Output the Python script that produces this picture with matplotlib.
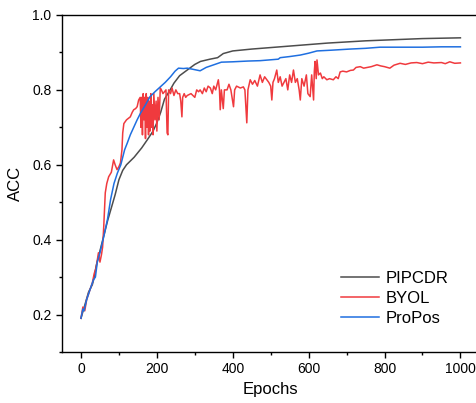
import matplotlib
matplotlib.use('Agg')
import matplotlib.pyplot as plt
from matplotlib.ticker import MultipleLocator

plt.rcParams['font.family'] = ['Liberation Sans', 'DejaVu Sans']

# PIPCDR (gray)
pip_ep = [0, 10, 20, 30, 35, 40, 50, 60, 70, 80, 90, 100, 110, 120, 140, 160, 175, 190,
          200, 210, 220, 235, 245, 260, 280, 300, 315, 340, 360, 375, 400, 450, 500, 550,
          600, 650, 700, 750, 800, 850, 900, 950, 1000]
pip_acc = [0.19, 0.225, 0.26, 0.28, 0.30, 0.33, 0.37, 0.41, 0.45, 0.485, 0.52, 0.56, 0.585,
           0.60, 0.62, 0.645, 0.667, 0.69, 0.712, 0.74, 0.775, 0.80, 0.818, 0.838, 0.853,
           0.868, 0.876, 0.882, 0.886, 0.897, 0.904, 0.909, 0.913, 0.917, 0.921, 0.925,
           0.928, 0.931, 0.933, 0.935, 0.937, 0.938, 0.939]

# BYOL (red)
byol_ep = [0, 5, 10, 15, 20, 25, 30, 35, 40, 46, 50, 54, 57, 60, 62, 64, 68, 73, 80, 86, 90,
           95, 100, 104, 108, 110, 113, 120, 130, 135, 139, 144, 148, 152, 156,
           158, 160, 162, 164, 166, 168, 170, 172, 174, 176, 178, 180, 182, 184, 186, 188,
           190, 192, 195, 198, 200, 203, 206, 209, 212, 216, 220, 224, 227, 229, 231, 236,
           240, 245, 250, 255, 260, 263, 266, 268, 272, 276, 280, 290, 300, 305, 310, 314,
           320, 325, 330, 335, 341, 346, 350, 355, 362, 365, 367, 370, 375, 378, 385, 390,
           395, 402, 405, 410, 420, 428, 432, 437, 440, 446, 452, 458, 465, 472, 478, 484,
           490, 495, 500, 503, 506, 510, 516, 520, 525, 530, 534, 540, 545, 550, 555, 560,
           565, 570, 575, 578, 582, 588, 594, 598, 604, 608, 613, 615, 617, 620, 622, 626,
           631, 636, 640, 648, 655, 665, 672, 678, 683, 690, 700, 710, 718, 725, 736, 745,
           755, 765, 780, 790, 800, 814, 825, 841, 855, 870, 885, 900, 915, 930, 950, 960,
           972, 985, 1000]
byol_acc = [0.19, 0.22, 0.21, 0.24, 0.255, 0.27, 0.285, 0.31, 0.325, 0.365, 0.34, 0.36, 0.38,
            0.435, 0.48, 0.525, 0.55, 0.568, 0.58, 0.613, 0.60, 0.587, 0.595, 0.605, 0.64,
            0.685, 0.71, 0.72, 0.728, 0.74, 0.747, 0.75, 0.755, 0.773, 0.78,
            0.70, 0.78, 0.68, 0.79, 0.72, 0.78, 0.67, 0.79, 0.70, 0.78, 0.68, 0.77, 0.69,
            0.79, 0.70, 0.76, 0.68, 0.79, 0.72, 0.77, 0.69, 0.78, 0.72, 0.805, 0.80, 0.79,
            0.795, 0.80, 0.685, 0.68, 0.80, 0.79, 0.805, 0.785, 0.80, 0.79, 0.79, 0.77,
            0.728, 0.78, 0.79, 0.78, 0.785, 0.79, 0.78, 0.80, 0.795, 0.80, 0.79, 0.805,
            0.795, 0.81, 0.805, 0.79, 0.81, 0.80, 0.827, 0.80, 0.747, 0.80, 0.75, 0.80,
            0.80, 0.815, 0.80, 0.755, 0.80, 0.81, 0.805, 0.808, 0.80, 0.712, 0.80, 0.827,
            0.815, 0.825, 0.81, 0.84, 0.82, 0.835, 0.827, 0.82, 0.81, 0.773, 0.82, 0.83,
            0.853, 0.82, 0.835, 0.81, 0.818, 0.83, 0.80, 0.84, 0.82, 0.853, 0.82, 0.83,
            0.80, 0.773, 0.83, 0.81, 0.84, 0.79, 0.782, 0.84, 0.773, 0.85, 0.876, 0.83,
            0.88, 0.84, 0.845, 0.83, 0.835, 0.827, 0.83, 0.827, 0.835, 0.83, 0.848, 0.85,
            0.848, 0.852, 0.853, 0.86, 0.862, 0.858, 0.86, 0.862, 0.867, 0.864, 0.862,
            0.858, 0.866, 0.871, 0.868, 0.872, 0.873, 0.87, 0.874, 0.872, 0.873, 0.87,
            0.875, 0.871, 0.872]

# ProPos (blue)
pro_ep = [0, 5, 8, 15, 25, 33, 38, 43, 50, 60, 70, 78, 87, 96, 105, 115, 122, 130, 139, 148,
          157, 170, 182, 195, 209, 222, 236, 248, 257, 270, 280, 295, 314, 330, 350, 370,
          400, 440, 472, 520, 525, 550, 578, 600, 622, 660, 709, 750, 788, 850, 900, 950, 1000]
pro_acc = [0.19, 0.215, 0.21, 0.24, 0.27, 0.293, 0.30, 0.34, 0.365, 0.408, 0.455, 0.507,
           0.55, 0.578, 0.60, 0.64, 0.658, 0.68, 0.70, 0.72, 0.738, 0.76, 0.782, 0.795,
           0.808, 0.82, 0.835, 0.85, 0.858, 0.857, 0.858, 0.855, 0.851, 0.86, 0.867, 0.874,
           0.875, 0.877, 0.878, 0.882, 0.886, 0.889, 0.893, 0.898, 0.904, 0.906, 0.909,
           0.911, 0.914, 0.914, 0.914, 0.915, 0.915]

fig = plt.figure(figsize=(4.77, 4.03), dpi=100)
ax = fig.add_axes([0.13, 0.1266, 0.875, 0.8362])

ax.plot(pip_ep, pip_acc, color='#4d4d4d', lw=1.1, label='PIPCDR')
ax.plot(byol_ep, byol_acc, color='#f03a3e', lw=1.1, label='BYOL')
ax.plot(pro_ep, pro_acc, color='#1f6fe0', lw=1.1, label='ProPos')

ax.set_xlim(-50, 1050)
ax.set_ylim(0.1, 1.0)
ax.xaxis.set_major_locator(MultipleLocator(200))
ax.xaxis.set_minor_locator(MultipleLocator(100))
ax.yaxis.set_major_locator(MultipleLocator(0.2))
ax.yaxis.set_minor_locator(MultipleLocator(0.1))
ax.tick_params(which='major', direction='out', length=4, width=1, labelsize=10)
ax.tick_params(which='minor', direction='out', length=2.5, width=1)
ax.spines['right'].set_visible(False)
for s in ['left', 'bottom', 'top']:
    ax.spines[s].set_linewidth(1)

ax.set_xlabel('Epochs', fontsize=12, labelpad=4)
ax.set_ylabel('ACC', fontsize=12, labelpad=7)

ax.legend(loc='lower right', bbox_to_anchor=(0.943, 0.058), frameon=False, fontsize=12,
          handlelength=2.3, handletextpad=0.4, labelspacing=0.3, borderaxespad=0)

fig.savefig('out.png', dpi=100)
